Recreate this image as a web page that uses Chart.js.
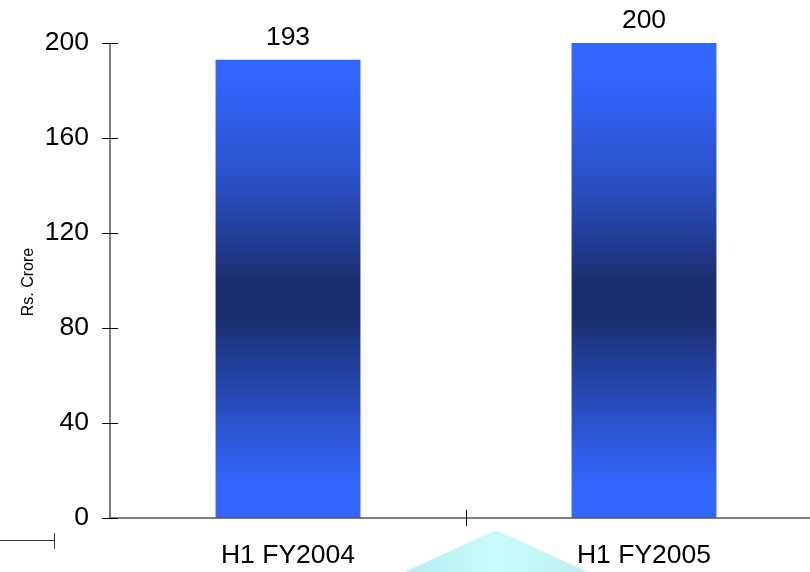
<!DOCTYPE html>
<html>
<head>
<meta charset="utf-8">
<script src="https://cdn.jsdelivr.net/npm/chart.js@4/dist/chart.umd.min.js"></script>
<style>
  html, body { margin: 0; padding: 0; background: #ffffff; overflow: hidden; }
  #wrap { position: relative; width: 822px; height: 572px; }
</style>
</head>
<body>
<div id="wrap"><canvas id="c" width="822" height="572"></canvas></div>
<script>
// Half-year figures, Rs. Crore
const categories = ['H1 FY2004', 'H1 FY2005'];
const values = [193, 200];
const yTicks = [0, 40, 80, 120, 160, 200];
const axisTitle = 'Rs. Crore';

const FONT = '"Liberation Sans", Arial, sans-serif';
const SIZE = 26.5;

// Vertical shading shared by both bars: bright at the ends, navy in the middle
function barShade(ctx) {
  const chart = ctx.chart;
  const area = chart.chartArea;
  if (!area) return '#3366ff';
  const g = chart.ctx.createLinearGradient(0, area.top, 0, area.bottom);
  g.addColorStop(0.00, '#3366ff');
  g.addColorStop(0.07, '#3366ff');
  g.addColorStop(0.30, '#2a4fc4');
  g.addColorStop(0.50, '#1b2e70');
  g.addColorStop(0.58, '#1b2e70');
  g.addColorStop(0.78, '#2a4fc4');
  g.addColorStop(0.93, '#3366ff');
  g.addColorStop(1.00, '#3366ff');
  return g;
}

// Axis lines, crossing tick marks, value labels and slide decorations
const decorations = {
  id: 'decorations',
  beforeDatasetsDraw(chart) {
    const c = chart.ctx;
    // pale cyan pointer shape at the bottom of the slide
    c.save();
    const tg = c.createLinearGradient(400, 0, 592, 0);
    tg.addColorStop(0, '#b6eef0');
    tg.addColorStop(0.5, '#c9fbfb');
    tg.addColorStop(1, '#bcf2f4');
    c.fillStyle = tg;
    c.beginPath();
    c.moveTo(496, 530);
    c.lineTo(592, 574);
    c.lineTo(400, 574);
    c.closePath();
    c.fill();
    // short connector line at the lower left
    c.strokeStyle = '#333333';
    c.lineWidth = 1;
    c.beginPath();
    c.moveTo(0, 540.5);
    c.lineTo(54, 540.5);
    c.moveTo(54.5, 533);
    c.lineTo(54.5, 549);
    c.stroke();
    c.restore();
  },
  afterDatasetsDraw(chart) {
    const c = chart.ctx;
    const x = chart.scales.x, y = chart.scales.y;
    const area = chart.chartArea;
    c.save();
    // axis lines
    c.strokeStyle = '#555555';
    c.lineWidth = 1.5;
    c.beginPath();
    c.moveTo(area.left, y.getPixelForValue(200));
    c.lineTo(area.left, y.getPixelForValue(0));
    c.lineTo(area.right, y.getPixelForValue(0));
    c.stroke();
    // y tick marks crossing the axis
    c.strokeStyle = '#000000';
    c.lineWidth = 1;
    c.beginPath();
    yTicks.forEach(v => {
      const py = Math.round(y.getPixelForValue(v)) + 0.5;
      c.moveTo(area.left - 8, py);
      c.lineTo(area.left + 8, py);
    });
    // x tick marks between categories
    for (let i = 1; i < categories.length; i++) {
      const px = Math.round((x.getPixelForValue(i - 1) + x.getPixelForValue(i)) / 2) + 0.5;
      const py = y.getPixelForValue(0);
      c.moveTo(px, py - 8);
      c.lineTo(px, py + 8);
    }
    c.stroke();
    // value labels above bars
    c.fillStyle = '#000000';
    c.font = SIZE + 'px ' + FONT;
    c.textAlign = 'center';
    c.textBaseline = 'alphabetic';
    const meta = chart.getDatasetMeta(0);
    meta.data.forEach((bar, i) => {
      c.fillText(String(values[i]), bar.x, bar.y - 15);
    });
    // rotated axis title
    c.font = '16px ' + FONT;
    c.translate(29, 282);
    c.rotate(-Math.PI / 2);
    c.textBaseline = 'middle';
    c.fillText(axisTitle, 0, 0);
    c.restore();
  }
};

new Chart(document.getElementById('c'), {
  type: 'bar',
  data: {
    labels: categories,
    datasets: [{
      data: values,
      backgroundColor: barShade,
      borderWidth: 0,
      barPercentage: 0.407,
      categoryPercentage: 1.0
    }]
  },
  options: {
    responsive: false,
    animation: false,
    events: [],
    layout: { padding: { top: 43, left: 0, right: 0, bottom: 0 } },
    plugins: { legend: { display: false }, tooltip: { enabled: false } },
    scales: {
      x: {
        grid: { display: false, drawTicks: false },
        border: { display: false },
        ticks: { color: '#000000', font: { family: FONT, size: SIZE }, padding: 22, maxRotation: 0 },
        afterFit(s) { s.height = 54; }
      },
      y: {
        min: 0, max: 200,
        grid: { display: false, drawTicks: false },
        border: { display: false },
        ticks: { stepSize: 40, color: '#000000', font: { family: FONT, size: SIZE }, padding: 21 },
        afterFit(s) { s.width = 110; }
      }
    }
  },
  plugins: [decorations]
});
</script>
</body>
</html>
